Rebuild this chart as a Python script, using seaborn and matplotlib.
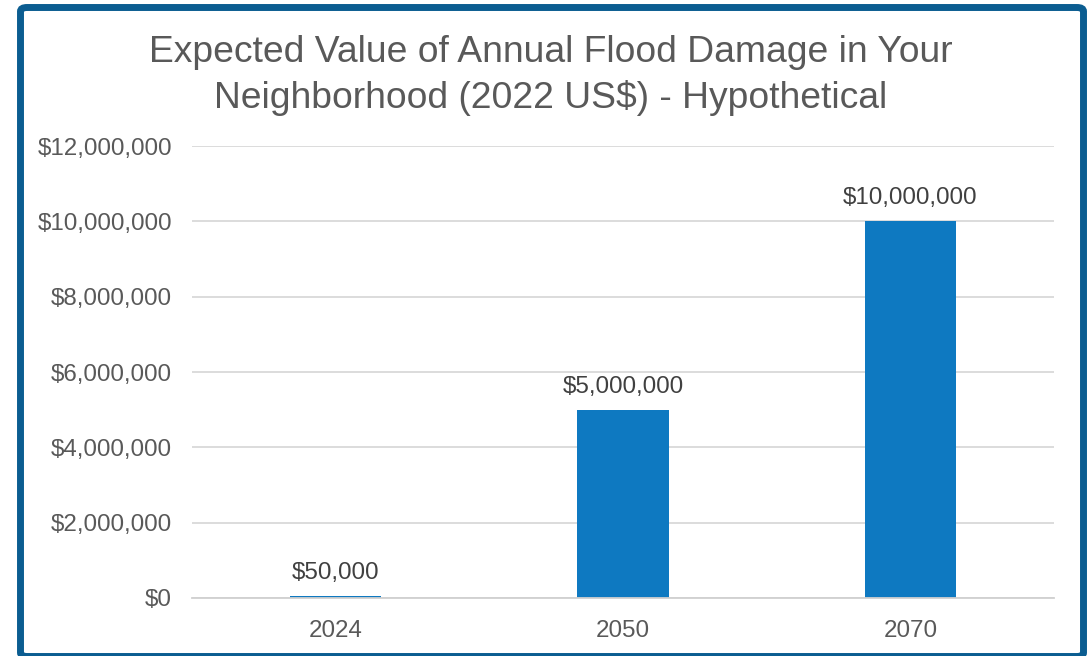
import matplotlib
matplotlib.use("Agg")
import matplotlib.pyplot as plt
import seaborn as sns
import pandas as pd
from matplotlib.patches import FancyBboxPatch
from matplotlib.ticker import FuncFormatter

years = ["2024", "2050", "2070"]
damage = [50000, 5000000, 10000000]
value_labels = ["$50,000", "$5,000,000", "$10,000,000"]
y_ticks = [0, 2000000, 4000000, 6000000, 8000000, 10000000, 12000000]
title_lines = ["Expected Value of Annual Flood Damage in Your",
               "Neighborhood (2022 US$) - Hypothetical"]

df = pd.DataFrame({"year": years, "damage": damage})

sns.set_theme(style="white")
plt.rcParams["font.family"] = ["Liberation Sans", "DejaVu Sans"]

W, H = 1091, 656
fig = plt.figure(figsize=(W / 100, H / 100), dpi=100)
fig.patch.set_facecolor("white")

ax = fig.add_axes([192 / W, 1 - 598 / H, (1054 - 192) / W, (598 - 146) / H])
bar_color = "#0E79C1"
sns.barplot(data=df, x="year", y="damage", color=bar_color, width=0.317,
            saturation=1, linewidth=0, ax=ax)

ax.set_ylim(0, 12000000)
ax.set_yticks(y_ticks)
ax.yaxis.set_major_formatter(FuncFormatter(lambda v, p: "${:,.0f}".format(v)))
ax.grid(axis="y", color="#D9D9D9", linewidth=1.3)
ax.set_axisbelow(True)
for s in ["top", "right", "left"]:
    ax.spines[s].set_visible(False)
ax.spines["bottom"].set_color("#D0D0D0")
ax.spines["bottom"].set_linewidth(1.3)
ax.set_xlabel("")
ax.set_ylabel("")
ax.tick_params(axis="both", length=0, labelsize=17.4, colors="#595959")
ax.tick_params(axis="y", pad=14.4)
ax.tick_params(axis="x", pad=15.5)

for i, (v, lab) in enumerate(zip(damage, value_labels)):
    ax.annotate(lab, (i, v), xytext=(0, 12.2), textcoords="offset points",
                ha="center", va="baseline", fontsize=17.4, color="#404040")

fig.text(551 / W, 1 - 62 / H, title_lines[0], ha="center", va="baseline",
         fontsize=26.8, color="#595959")
fig.text(551 / W, 1 - 107.5 / H, title_lines[1], ha="center", va="baseline",
         fontsize=26.8, color="#595959")

border = FancyBboxPatch((20.5 / W, 1 - 656.5 / H), (1083.5 - 20.5) / W, (656.5 - 7.5) / H,
                        boxstyle="round,pad=0,rounding_size=0.006",
                        transform=fig.transFigure, fill=False,
                        edgecolor="#0B5D91", linewidth=5.0, zorder=10)
fig.patches.append(border)

fig.savefig("out.png", dpi=100, facecolor="white")
